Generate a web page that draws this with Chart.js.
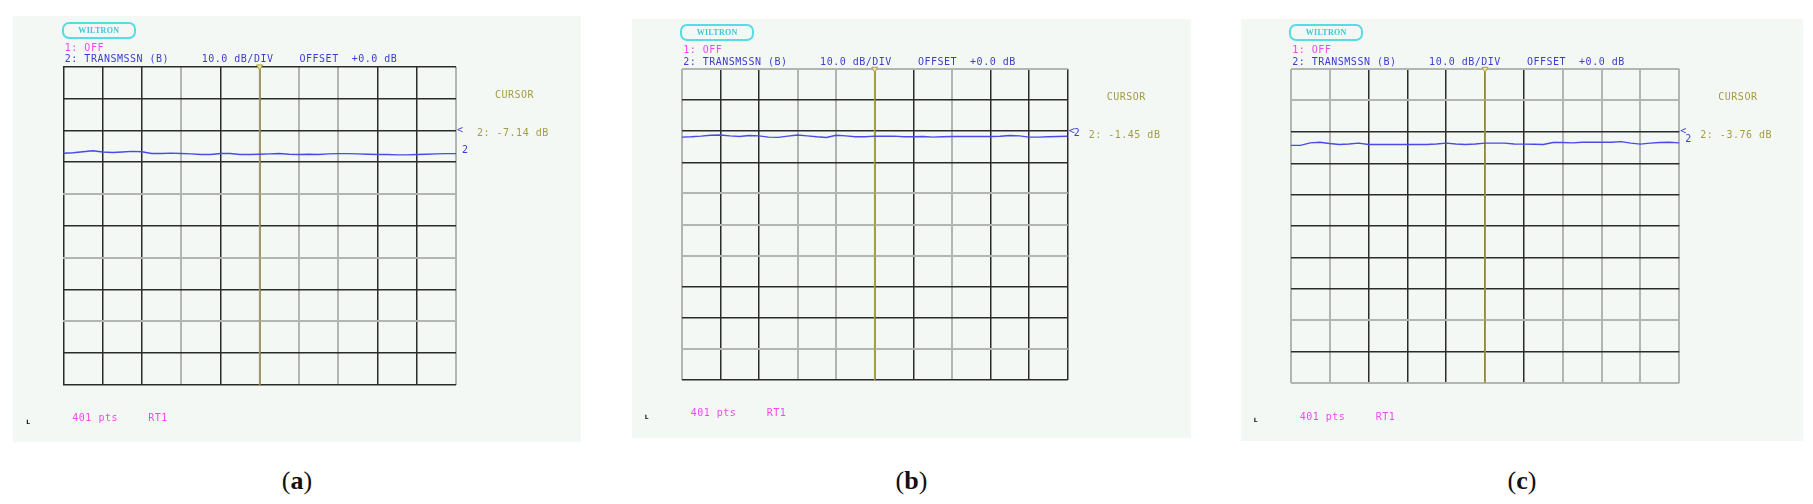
<!DOCTYPE html>
<html>
<head>
<meta charset="utf-8">
<script src="https://cdn.jsdelivr.net/npm/chart.js@4.4.1/dist/chart.umd.min.js"></script>
<style>
  html, body { margin:0; padding:0; background:#ffffff; }
  body { width:1813px; height:504px; position:relative; overflow:hidden; }
  .bg { position:absolute; background:#f4f8f5; }
  canvas.panel { position:absolute; }
  .t { position:absolute; white-space:pre; font-family:"DejaVu Sans Mono", "Liberation Mono", monospace;
       font-size:10px; line-height:10px; letter-spacing:0.5px; }
  .mag { color:#ee48ee; }
  .blu { color:#3c3cd0; }
  .oli { color:#a29c42; }
  .logo { position:absolute; box-sizing:border-box; border:2px solid #55dde3; border-radius:7px;
          color:#3cc6d6; font-family:"Liberation Serif", serif; font-weight:bold; font-size:8px;
          text-align:center; letter-spacing:0.3px; }
  .lbl { position:absolute; font-family:"Liberation Serif", "DejaVu Serif", serif; font-size:26px;
         line-height:30px; color:#111; text-align:center; width:80px; }
  .lbl b { font-weight:bold; }
  .tiny { position:absolute; font-family:"DejaVu Sans", sans-serif; font-size:6px; font-weight:bold; color:#111; line-height:6px; }
</style>
</head>
<body>
<script>
// ---------------- data ----------------
const pointIndex = [0,10,20,30,40,50,60,70,80,90,100,110,120,130,140,150,160,170,180,190,200,
                    210,220,230,240,250,260,270,280,290,300,310,320,330,340,350,360,370,380,390,400];
const panelLabels = ["a", "b", "c"];
const cursorReadouts = ["2: -7.14 dB", "2: -1.45 dB", "2: -3.76 dB"];
const cursorPoint = [200, 200, 200];
const yRange = [-80, 20];      // 10.0 dB/DIV, reference line at 0 dB (2 div from top)
const xRange = [0, 400];       // 401 pts
const traceA = [-7.2,-7.05,-6.7,-6.4,-6.8,-6.95,-6.8,-6.6,-6.7,-7.25,-7.25,-7.15,-7.25,-7.4,-7.6,-7.6,-7.25,-7.25,-7.6,-7.6,-7.5,
                -7.4,-7.25,-7.5,-7.6,-7.5,-7.6,-7.4,-7.3,-7.3,-7.4,-7.5,-7.6,-7.6,-7.7,-7.7,-7.6,-7.5,-7.4,-7.3,-7.3];
const traceB = [-1.9,-1.8,-1.6,-1.3,-1.2,-1.5,-1.7,-1.4,-1.5,-1.9,-2.0,-1.6,-1.2,-1.5,-1.8,-2.0,-1.3,-1.5,-1.8,-1.8,-1.6,
                -1.6,-1.6,-1.8,-1.8,-1.7,-1.9,-1.8,-1.7,-1.7,-1.7,-1.7,-1.7,-1.6,-1.4,-1.5,-1.9,-1.9,-1.8,-1.7,-1.6];
const traceC = [-4.3,-4.3,-3.5,-3.3,-3.7,-4.0,-3.85,-3.6,-4.0,-4.0,-4.0,-4.0,-4.0,-4.0,-4.0,-3.85,-3.6,-3.85,-4.0,-3.85,-3.6,
                -3.6,-3.6,-3.85,-3.9,-3.95,-4.0,-3.4,-3.4,-3.5,-3.3,-3.3,-3.3,-3.3,-3.1,-3.6,-3.9,-3.6,-3.4,-3.3,-3.5];
const traces = [traceA, traceB, traceC];

// ---------------- layout / style ----------------
const panels = [
  { bg:{x:13,   y:16, w:568, h:426}, grid:{l:63.3,   t:66.7, r:456,    b:385},
    vDark:[1,1,1,0,1,1,0,0,1,1,0], hDark:[1,1,1,1,0,1,0,1,0,1,1] },
  { bg:{x:632,  y:19, w:559, h:419}, grid:{l:681.7,  t:69,   r:1067.7, b:380},
    vDark:[0,1,1,0,0,1,1,0,1,1,1], hDark:[0,1,1,1,0,0,0,1,1,0,1] },
  { bg:{x:1241, y:19, w:562, h:422}, grid:{l:1290.7, t:69,   r:1679.3, b:383.3},
    vDark:[0,0,1,1,1,1,1,0,0,0,0], hDark:[0,0,1,1,1,1,1,1,0,1,0] }
];
const DARK = '#2b2b2b', LIGHT = '#b3b5b3';
const TRACE = '#4a4ae8', CURSOR = '#a8a336', TXTBLUE = '#3c3cd0';

function addText(cls, txt, left, yCenter) {
  const d = document.createElement('div');
  d.className = 't ' + cls;
  d.textContent = txt;
  d.style.left = left + 'px';
  d.style.top = (yCenter - 4.8) + 'px';
  document.body.appendChild(d);
  return d;
}

const markerPlugin = {
  id: 'marker',
  afterDatasetsDraw(chart, args, opts) {
    const c = chart.ctx, a = chart.chartArea, ys = chart.scales.y;
    const data = chart.data.datasets[0].data;
    const last = data[data.length - 1].y;
    c.save();
    c.fillStyle = TXTBLUE;
    c.font = '10px "DejaVu Sans Mono"';
    c.textBaseline = 'middle';
    c.fillText('<', a.right + 1, ys.getPixelForValue(0));
    c.fillText('2', a.right + 6, ys.getPixelForValue(last) - 3);
    c.restore();
  }
};

panels.forEach((p, i) => {
  const bg = p.bg, g = p.grid;
  const cv = document.createElement('canvas');
  cv.className = 'panel';
  cv.width = bg.w; cv.height = bg.h;
  cv.style.left = bg.x + 'px'; cv.style.top = bg.y + 'px';
  cv.style.background = '#f4f8f5';
  document.body.appendChild(cv);

  const traceData = pointIndex.map((x, k) => ({ x: x, y: traces[i][k] }));
  const cursorData = [{ x: cursorPoint[i], y: yRange[1] }, { x: cursorPoint[i], y: yRange[0] }];

  new Chart(cv, {
    type: 'line',
    data: {
      datasets: [
        { data: traceData, borderColor: TRACE, borderWidth: 1.4, pointRadius: 0, tension: 0, order: 1 },
        { data: cursorData, borderColor: CURSOR, borderWidth: 1.6, pointRadius: [3.5, 0],
          pointStyle: 'triangle', rotation: 180, pointBorderColor: CURSOR, pointBackgroundColor: '#e8e6b0',
          pointBorderWidth: 1, clip: false, order: 2 },
        { data: cursorData, borderColor: 'rgba(60,60,60,0.7)', borderWidth: 1, borderDash: [2, 19],
          pointRadius: 0, order: 3 }
      ]
    },
    options: {
      responsive: false, animation: false, devicePixelRatio: 1,
      layout: { padding: { left: g.l - bg.x, top: g.t - bg.y, right: bg.x + bg.w - g.r, bottom: bg.y + bg.h - g.b } },
      plugins: { legend: { display: false }, tooltip: { enabled: false } },
      scales: {
        x: { type: 'linear', min: xRange[0], max: xRange[1],
             ticks: { display: false, stepSize: 40 },
             grid: { drawTicks: false,
                     color: c => p.vDark[Math.round(c.tick.value / 40)] ? DARK : LIGHT,
                     lineWidth: c => p.vDark[Math.round(c.tick.value / 40)] ? 1.5 : 2 },
             border: { display: false } },
        y: { type: 'linear', min: yRange[0], max: yRange[1],
             ticks: { display: false, stepSize: 10 },
             grid: { drawTicks: false,
                     color: c => p.hDark[Math.round((yRange[1] - c.tick.value) / 10)] ? DARK : LIGHT,
                     lineWidth: c => p.hDark[Math.round((yRange[1] - c.tick.value) / 10)] ? 1.5 : 2 },
             border: { display: false } }
      }
    },
    plugins: [markerPlugin]
  });

  // logo
  const lg = document.createElement('div');
  lg.className = 'logo';
  lg.textContent = 'WILTRON';
  lg.style.left = (g.l - 1.5) + 'px'; lg.style.top = (g.t - 45) + 'px';
  lg.style.width = '74px'; lg.style.height = '17px'; lg.style.lineHeight = '13px';
  document.body.appendChild(lg);

  addText('mag', '1: OFF', g.l + 1.5, g.t - 19);
  addText('blu', '2: TRANSMSSN (B)     10.0 dB/DIV    OFFSET  +0.0 dB', g.l + 1.5, g.t - 7.7);
  const cur = addText('oli', 'CURSOR', 0, g.t + 28);
  cur.style.left = (g.r + 58 - 19) + 'px';
  addText('oli', cursorReadouts[i], g.r + 21, g.t + 66);
  addText('mag', '401 pts', g.l + 9, g.b + 33);
  addText('mag', 'RT1', g.l + 85, g.b + 33);

  const L = document.createElement('div');
  L.className = 'tiny'; L.textContent = 'L';
  L.style.left = (g.l - 37) + 'px'; L.style.top = (g.b + 34) + 'px';
  document.body.appendChild(L);

  const lb = document.createElement('div');
  lb.className = 'lbl';
  lb.innerHTML = '(<b>' + panelLabels[i] + '</b>)';
  lb.style.left = (bg.x + bg.w / 2 - 40) + 'px';
  lb.style.top = '466px';
  document.body.appendChild(lb);
});
</script>
</body>
</html>
